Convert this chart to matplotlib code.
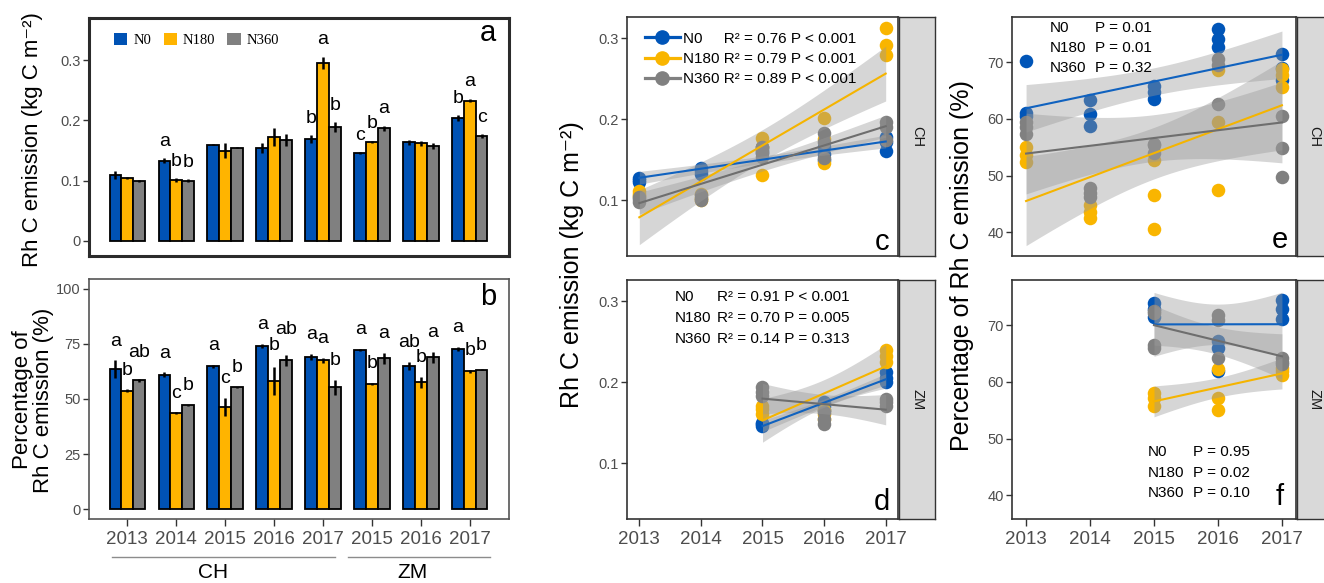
import numpy as np
import matplotlib
matplotlib.use('Agg')
import matplotlib.pyplot as plt
from matplotlib.patches import Patch
from matplotlib.lines import Line2D

plt.rcParams['font.family'] = ['Liberation Sans', 'DejaVu Sans']

treatments = ['N0', 'N180', 'N360']
bar_colors = ['#0052B4', '#FFB400', '#808080']
dot_colors = ['#0055B8', '#F9B500', '#808080']
line_colors = ['#1062BF', '#F5B400', '#6E6E6E']

group_years = ['2013', '2014', '2015', '2016', '2017', '2015', '2016', '2017']

# panel a: Rh C emission (kg C m-2), mean and SE per group
rh_mean = [
    [0.109, 0.133, 0.160, 0.154, 0.169, 0.146, 0.164, 0.204],   # N0
    [0.104, 0.101, 0.150, 0.173, 0.296, 0.164, 0.162, 0.233],   # N180
    [0.099, 0.100, 0.155, 0.168, 0.189, 0.187, 0.157, 0.174],   # N360
]
rh_se = [
    [0.007, 0.004, 0.001, 0.008, 0.006, 0.001, 0.004, 0.005],
    [0.002, 0.003, 0.012, 0.015, 0.010, 0.002, 0.004, 0.003],
    [0.002, 0.002, 0.001, 0.010, 0.008, 0.004, 0.005, 0.003],
]
rh_letters = [['', '', ''], ['a', 'b', 'b'], ['', '', ''], ['', '', ''],
              ['b', 'a', 'b'], ['c', 'b', 'a'], ['', '', ''], ['b', 'a', 'c']]

# panel b: percentage of Rh C emission (%)
pct_mean = [
    [63.5, 61.0, 64.8, 74.1, 69.1, 72.3, 65.0, 72.7],
    [53.8, 43.5, 46.5, 58.2, 67.6, 56.8, 57.7, 62.6],
    [58.6, 47.1, 55.3, 67.7, 55.3, 68.5, 68.9, 63.3],
]
pct_se = [
    [4.0, 1.2, 0.7, 1.0, 1.3, 0.6, 1.8, 0.9],
    [0.7, 0.5, 4.0, 6.5, 1.2, 0.5, 2.5, 0.6],
    [0.7, 0.4, 0.2, 2.5, 3.5, 2.5, 2.5, 0.3],
]
pct_letters = [['a', 'b', 'ab'], ['a', 'c', 'b'], ['a', 'c', 'b'], ['a', 'b', 'ab'],
               ['a', 'a', 'b'], ['a', 'b', 'a'], ['ab', 'b', 'a'], ['a', 'b', 'b']]

# panels c-f: replicate values per year
years_ch = [2013, 2014, 2015, 2016, 2017]
years_zm = [2015, 2016, 2017]

rh_ch = [
    [[0.122, 0.125, 0.127], [0.132, 0.136, 0.140], [0.158, 0.162, 0.165], [0.150, 0.157, 0.165], [0.160, 0.172, 0.178]],
    [[0.105, 0.108, 0.111], [0.100, 0.103, 0.107], [0.131, 0.165, 0.177], [0.146, 0.175, 0.201], [0.279, 0.292, 0.312]],
    [[0.098, 0.101, 0.104], [0.100, 0.103, 0.106], [0.153, 0.159, 0.165], [0.152, 0.172, 0.183], [0.174, 0.190, 0.196]],
]
rh_zm = [
    [[0.146, 0.148, 0.150], [0.165, 0.170, 0.175], [0.200, 0.205, 0.212]],
    [[0.160, 0.167, 0.170], [0.155, 0.160, 0.165], [0.225, 0.232, 0.240]],
    [[0.183, 0.188, 0.194], [0.148, 0.155, 0.163], [0.170, 0.175, 0.179]],
]
pct_ch = [
    [[60.5, 61.0, 70.3], [58.7, 60.9, 63.3], [63.6, 64.8, 65.9], [72.7, 74.2, 75.9], [66.8, 69.0, 71.5]],
    [[52.4, 53.6, 55.1], [42.5, 43.6, 44.8], [40.5, 46.5, 52.7], [47.4, 59.5, 68.6], [65.6, 67.7, 68.9]],
    [[57.4, 58.6, 59.5], [46.2, 47.0, 47.8], [54.0, 55.4, 55.6], [62.7, 69.5, 70.6], [49.8, 54.8, 60.6]],
]
pct_zm = [
    [[71.4, 72.8, 74.0], [61.9, 66.0, 67.2], [71.1, 72.8, 74.4]],
    [[55.7, 57.2, 58.1], [55.1, 57.2, 62.2], [61.3, 62.0, 62.5]],
    [[66.0, 66.6, 72.2, 72.6], [64.3, 71.0, 71.9], [63.1, 63.6, 64.2]],
]

rh_ch_stats = ['R\u00b2 = 0.76 P < 0.001', 'R\u00b2 = 0.79 P < 0.001', 'R\u00b2 = 0.89 P < 0.001']
rh_zm_stats = ['R\u00b2 = 0.91 P < 0.001', 'R\u00b2 = 0.70 P = 0.005', 'R\u00b2 = 0.14 P = 0.313']
pct_ch_stats = ['P = 0.01', 'P = 0.01', 'P = 0.32']
pct_zm_stats = ['P = 0.95', 'P = 0.02', 'P = 0.10']

t_crit = {7: 2.365, 8: 2.306, 9: 2.262, 10: 2.228, 11: 2.201, 12: 2.179, 13: 2.160, 14: 2.145}

W, H = 1324, 583
fig = plt.figure(figsize=(W / 100, H / 100), dpi=100)


def px_axes(x0, y0, x1, y1):
    return fig.add_axes([x0 / W, 1 - y1 / H, (x1 - x0) / W, (y1 - y0) / H])


def style_axes(ax, lw=1.2, color='#333333'):
    for s in ax.spines.values():
        s.set_color(color)
        s.set_linewidth(lw)
    ax.tick_params(length=4, width=1.0, color='#333333', labelcolor='#4D4D4D',
                   labelsize=10.5, pad=2)


x = np.arange(1, 9)
offsets = [-0.24, 0.0, 0.24]


def draw_bars(ax, means, ses, letters, lift, extra=None):
    extra = extra or {}
    for i in range(3):
        ax.bar(x + offsets[i], means[i], width=0.24, color=bar_colors[i],
               edgecolor='black', linewidth=1.3, zorder=2)
        ax.errorbar(x + offsets[i], means[i], yerr=ses[i], fmt='none',
                    ecolor='black', elinewidth=1.8, capsize=0, zorder=3)
        for g in range(8):
            lab = letters[g][i]
            if lab:
                ax.annotate(lab, (x[g] + offsets[i], means[i][g] + ses[i][g]),
                            xytext=(0, lift + extra.get((g, i), 0)),
                            textcoords='offset points',
                            ha='center', va='baseline', fontsize=14)
    ax.set_xlim(0.22, 8.8)


def draw_scatter(ax, years, data):
    for i in range(3):
        xs = np.concatenate([[yr] * len(r) for yr, r in zip(years, data[i])])
        ys = np.concatenate(data[i])
        ax.scatter(xs, ys, s=95, color=dot_colors[i], linewidths=0, zorder=2)
    for i in range(3):
        xs = np.concatenate([[yr] * len(r) for yr, r in zip(years, data[i])]).astype(float)
        ys = np.concatenate(data[i])
        b1, b0 = np.polyfit(xs, ys, 1)
        n = len(xs)
        s = np.sqrt(np.sum((ys - (b0 + b1 * xs)) ** 2) / (n - 2))
        xg = np.linspace(min(years), max(years), 80)
        se = s * np.sqrt(1 / n + (xg - xs.mean()) ** 2 / np.sum((xs - xs.mean()) ** 2))
        yg = b0 + b1 * xg
        t = t_crit[n - 2]
        ax.fill_between(xg, yg - t * se, yg + t * se, color='#999999', alpha=0.4,
                        linewidth=0, zorder=3)
        ax.plot(xg, yg, color=line_colors[i], lw=1.5, zorder=4)


def add_strip(x0, y0, x1, y1, label):
    sa = px_axes(x0, y0, x1, y1)
    sa.set_facecolor('#D9D9D9')
    sa.set_xticks([])
    sa.set_yticks([])
    for s in sa.spines.values():
        s.set_color('#333333')
        s.set_linewidth(1.0)
    sa.text(0.5, 0.5, label, rotation=270, ha='center', va='center',
            fontsize=10.5, color='#1A1A1A', transform=sa.transAxes)


def stat_table(ax, xn, xs, ys, stats):
    for name, st, yy in zip(treatments, stats, ys):
        ax.text(xn, yy, name, transform=ax.transAxes, fontsize=11, va='center')
        ax.text(xs, yy, st, transform=ax.transAxes, fontsize=11, va='center')


# ---- panel a ----
ax_a = px_axes(89, 18, 509, 256)
draw_bars(ax_a, rh_mean, rh_se, rh_letters, lift=9)
ax_a.set_ylim(-0.025, 0.37)
ax_a.set_yticks([0, 0.1, 0.2, 0.3])
ax_a.set_yticklabels(['0', '0.1', '0.2', '0.3'])
ax_a.set_xticks([])
style_axes(ax_a, lw=2.2, color='#2B2B2B')
ax_a.text(0.97, 0.935, 'a', transform=ax_a.transAxes, ha='right', va='center', fontsize=21)
handles = [Patch(facecolor=c, edgecolor='none') for c in bar_colors]
ax_a.legend(handles, treatments, ncol=3, loc='center left', bbox_to_anchor=(0.043, 0.908),
            frameon=False, borderpad=0, handlelength=0.9, handleheight=0.9,
            handletextpad=0.4, columnspacing=0.85,
            prop={'family': 'Liberation Serif', 'size': 10.5})

# ---- panel b ----
ax_b = px_axes(89, 279, 509, 519)
draw_bars(ax_b, pct_mean, pct_se, pct_letters, lift=10.5,
          extra={(0, 2): 5, (3, 1): 1.5, (3, 2): 4, (7, 2): 3})
ax_b.set_ylim(-4.5, 104.5)
ax_b.set_yticks([0, 25, 50, 75, 100])
ax_b.set_xticks(x)
ax_b.set_xticklabels(group_years)
style_axes(ax_b, lw=1.2, color='#555555')
ax_b.tick_params(axis='x', length=5, labelsize=13.5, pad=4)
ax_b.text(0.97, 0.925, 'b', transform=ax_b.transAxes, ha='right', va='center', fontsize=21)

fig.add_artist(Line2D([112 / W, 335 / W], [1 - 557 / H] * 2, color='#8C8C8C', lw=1.0))
fig.add_artist(Line2D([348 / W, 490 / W], [1 - 557 / H] * 2, color='#8C8C8C', lw=1.0))
fig.text(213 / W, 1 - 573 / H, 'CH', ha='center', va='center', fontsize=15)
fig.text(413 / W, 1 - 573 / H, 'ZM', ha='center', va='center', fontsize=15)

fig.text(33 / W, 1 - 140 / H, 'Rh C emission (kg C m\u207b\u00b2)', rotation=90,
         ha='center', va='center', fontsize=16)
fig.text(33 / W, 1 - 400 / H, 'Percentage of\nRh C emission (%)', rotation=90,
         ha='center', va='center', fontsize=16, linespacing=1.05)

# ---- panels c, d ----
ax_c = px_axes(627, 17, 898, 256)
ax_d = px_axes(627, 280, 898, 519)
draw_scatter(ax_c, years_ch, rh_ch)
draw_scatter(ax_d, years_zm, rh_zm)
for ax in (ax_c, ax_d):
    ax.set_xlim(2012.8, 2017.2)
    ax.set_ylim(0.031, 0.326)
    ax.set_yticks([0.1, 0.2, 0.3])
    ax.set_yticklabels(['0.1', '0.2', '0.3'])
    style_axes(ax)
ax_c.set_xticks([])
ax_d.set_xticks(years_ch)
ax_d.tick_params(axis='x', length=5, labelsize=13.5, pad=4)
add_strip(899, 17, 935, 256, 'CH')
add_strip(899, 280, 935, 519, 'ZM')
ax_c.text(0.94, 0.06, 'c', transform=ax_c.transAxes, ha='center', va='center', fontsize=21)
ax_d.text(0.94, 0.07, 'd', transform=ax_d.transAxes, ha='center', va='center', fontsize=21)

leg_handles = [Line2D([], [], color=c, lw=2.3, marker='o', markersize=9.5) for c in dot_colors]
leg_labels = ['N0     ' + rh_ch_stats[0], 'N180 ' + rh_ch_stats[1], 'N360 ' + rh_ch_stats[2]]
ax_c.legend(leg_handles, leg_labels, loc='upper left', bbox_to_anchor=(0.037, 0.97),
            frameon=False, borderpad=0, handlelength=2.3, handletextpad=0.2,
            labelspacing=0.4, fontsize=11)
stat_table(ax_d, 0.177, 0.332, [0.929, 0.841, 0.753], rh_zm_stats)

fig.text(572 / W, 1 - 265 / H, 'Rh C emission (kg C m\u207b\u00b2)', rotation=90,
         ha='center', va='center', fontsize=18)

# ---- panels e, f ----
ax_e = px_axes(1012, 17, 1296, 256)
ax_f = px_axes(1012, 280, 1296, 519)
draw_scatter(ax_e, years_ch, pct_ch)
draw_scatter(ax_f, years_zm, pct_zm)
for ax in (ax_e, ax_f):
    ax.set_xlim(2012.78, 2017.22)
    ax.set_ylim(35.8, 78.0)
    ax.set_yticks([40, 50, 60, 70])
    style_axes(ax)
ax_e.set_xticks([])
ax_f.set_xticks(years_ch)
ax_f.tick_params(axis='x', length=5, labelsize=13.5, pad=4)
add_strip(1297, 17, 1332, 256, 'CH')
add_strip(1297, 280, 1332, 519, 'ZM')
ax_e.text(0.944, 0.067, 'e', transform=ax_e.transAxes, ha='center', va='center', fontsize=21)
ax_f.text(0.944, 0.09, 'f', transform=ax_f.transAxes, ha='center', va='center', fontsize=21)
stat_table(ax_e, 0.134, 0.292, [0.953, 0.869, 0.785], pct_ch_stats)
stat_table(ax_f, 0.479, 0.637, [0.28, 0.192, 0.108], pct_zm_stats)

fig.text(962 / W, 1 - 266 / H, 'Percentage of Rh C emission (%)', rotation=90,
         ha='center', va='center', fontsize=18)

fig.savefig('out.png', dpi=100)
